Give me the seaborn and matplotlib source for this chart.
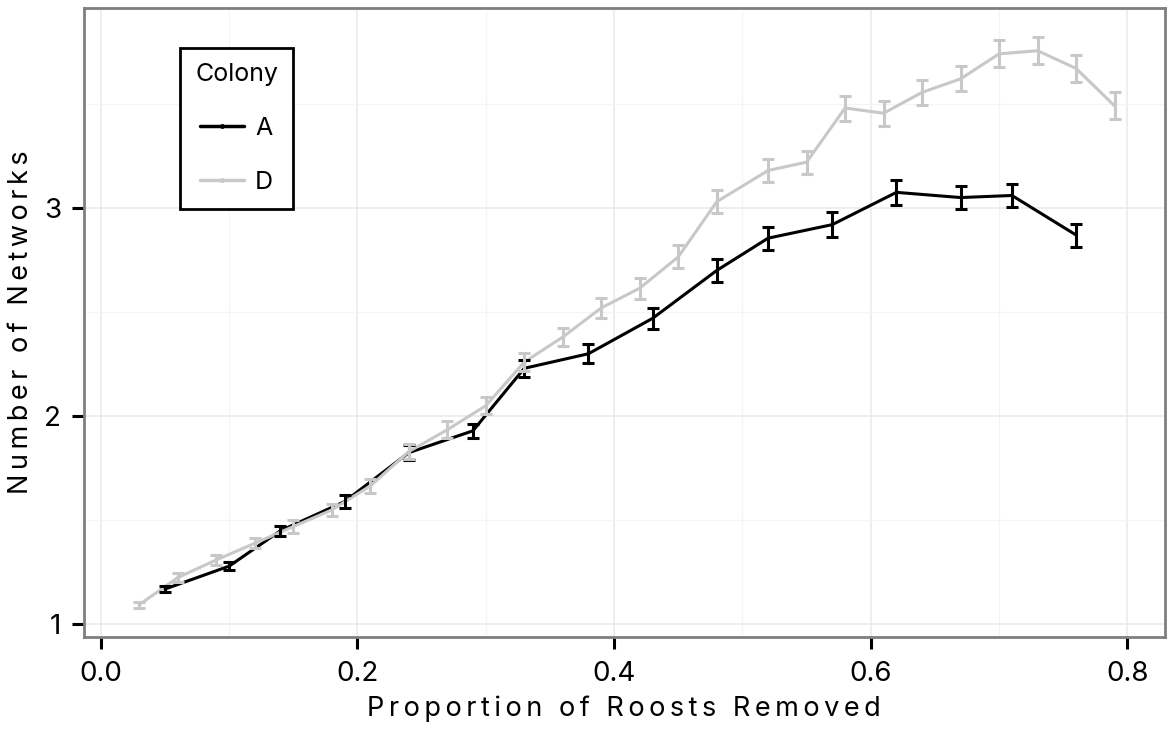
import numpy as np
import pandas as pd
import matplotlib
matplotlib.use("Agg")
import matplotlib.pyplot as plt
from matplotlib.ticker import MultipleLocator
from matplotlib.lines import Line2D
import seaborn as sns

# Colony A (black)
a_x = [0.05, 0.10, 0.14, 0.19, 0.24, 0.29, 0.33, 0.38, 0.43, 0.48, 0.52, 0.57, 0.62, 0.67, 0.71, 0.76]
a_y = [1.17, 1.28, 1.45, 1.59, 1.825, 1.93, 2.23, 2.30, 2.47, 2.70, 2.855, 2.92, 3.075, 3.05, 3.06, 2.87]
a_err = [0.015, 0.02, 0.025, 0.03, 0.035, 0.035, 0.04, 0.045, 0.05, 0.055, 0.055, 0.06, 0.06, 0.055, 0.055, 0.055]

# Colony D (grey)
d_x = [0.03, 0.06, 0.09, 0.12, 0.15, 0.18, 0.21, 0.24, 0.27, 0.30, 0.33, 0.36, 0.39, 0.42, 0.45,
       0.48, 0.52, 0.55, 0.58, 0.61, 0.64, 0.67, 0.70, 0.73, 0.76, 0.79]
d_y = [1.095, 1.225, 1.31, 1.39, 1.47, 1.55, 1.665, 1.83, 1.935, 2.05, 2.26, 2.38, 2.52, 2.615, 2.765,
       3.03, 3.18, 3.22, 3.48, 3.455, 3.555, 3.62, 3.74, 3.755, 3.67, 3.49]
d_err = [0.015, 0.02, 0.025, 0.025, 0.03, 0.03, 0.035, 0.035, 0.04, 0.04, 0.045, 0.045, 0.05, 0.05, 0.055,
         0.055, 0.055, 0.055, 0.06, 0.06, 0.06, 0.06, 0.065, 0.065, 0.065, 0.065]

x_ticks = [0.0, 0.2, 0.4, 0.6, 0.8]
y_ticks = [1, 2, 3]

colors = {'A': 'black', 'D': '#c8c8c8'}

df = pd.concat([
    pd.DataFrame({'prop': a_x, 'networks': a_y, 'se': a_err, 'Colony': 'A'}),
    pd.DataFrame({'prop': d_x, 'networks': d_y, 'se': d_err, 'Colony': 'D'}),
])


def spaced(text):
    # wide letter spacing like the original axis titles
    return '\u2006'.join(text)


sns.set_style("white")
plt.rcParams['font.family'] = ['Inter', 'DejaVu Sans']
plt.rcParams['text.color'] = 'black'
plt.rcParams['axes.labelcolor'] = 'black'

fig = plt.figure(figsize=(11.67, 7.31), dpi=100)
ax = fig.add_axes([0.072, 0.1286, 0.926, 0.8604])

sns.lineplot(data=df, x='prop', y='networks', hue='Colony', palette=colors,
             hue_order=['A', 'D'], linewidth=2.2, legend=False, ax=ax, zorder=3)
for colony in ['A', 'D']:
    sub = df[df['Colony'] == colony]
    ax.errorbar(sub['prop'], sub['networks'], yerr=sub['se'], fmt='none',
                ecolor=colors[colony], elinewidth=2.2, capsize=4.2, capthick=2.2, zorder=3)

ax.set_xlim(-0.013, 0.829)
ax.set_ylim(0.94, 3.96)
ax.xaxis.set_minor_locator(MultipleLocator(0.1))
ax.yaxis.set_minor_locator(MultipleLocator(0.5))
ax.set_xticks(x_ticks)
ax.set_xticklabels(['%.1f' % v for v in x_ticks])
ax.set_yticks(y_ticks)
ax.set_yticklabels([str(v) for v in y_ticks])
ax.grid(which='major', color='#ebebeb', linewidth=1.2)
ax.grid(which='minor', color='#f4f4f4', linewidth=0.8)
ax.set_axisbelow(True)
for s in ax.spines.values():
    s.set_color('#7f7f7f')
    s.set_linewidth(2)
ax.tick_params(axis='both', which='major', length=8.5, width=2.2, color='black',
               labelcolor='black', labelsize=20, direction='out', bottom=True, left=True)
ax.tick_params(axis='x', pad=9)
ax.tick_params(axis='y', pad=8)
ax.tick_params(which='minor', length=0)

ax.set_xlabel(spaced('Proportion of Roosts Removed'), fontsize=19.5, labelpad=6)
ax.set_ylabel(spaced('Number of Networks'), fontsize=19.5, labelpad=7)

handles = [Line2D([0], [0], color=colors[c], linewidth=2.5, marker='o', markersize=2.5) for c in ['A', 'D']]
leg = ax.legend(handles, ['A', 'D'], title='Colony', loc='upper left',
                bbox_to_anchor=(0.0774, 0.957), fontsize=18, title_fontsize=18,
                frameon=True, fancybox=False, handlelength=1.75, labelspacing=1.25,
                borderpad=0.6, handletextpad=0.45)
leg.get_frame().set_edgecolor('black')
leg.get_frame().set_linewidth(2)
leg.get_frame().set_alpha(1)

fig.savefig('out.png', dpi=100)
